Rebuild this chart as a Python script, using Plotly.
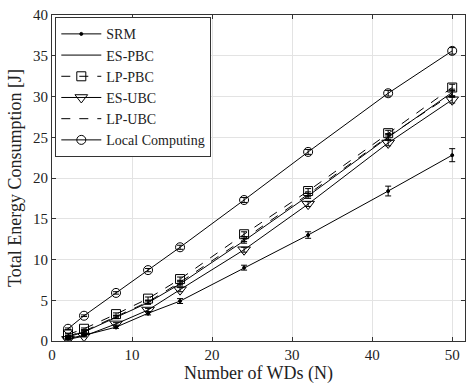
import plotly.graph_objects as go

N = [2, 4, 8, 12, 16, 24, 32, 42, 50]
srm = [0.3, 0.7, 1.7, 3.4, 4.9, 9.0, 13.0, 18.4, 22.8]
srm_err = [0.1, 0.1, 0.15, 0.2, 0.3, 0.3, 0.4, 0.6, 0.8]
es_pbc = [0.5, 1.1, 2.9, 4.7, 7.0, 12.3, 17.8, 25.0, 30.5]
lp_pbc = [0.8, 1.5, 3.3, 5.2, 7.6, 13.1, 18.4, 25.5, 31.1]
es_ubc = [0.2, 0.6, 2.1, 3.8, 6.3, 11.2, 16.8, 24.3, 29.6]
lp_ubc = [0.6, 1.2, 3.0, 4.8, 7.2, 12.5, 18.0, 25.1, 30.3]
local = [1.5, 3.1, 5.9, 8.7, 11.5, 17.3, 23.2, 30.4, 35.6]
gen_err = [0.1, 0.1, 0.15, 0.2, 0.25, 0.3, 0.3, 0.35, 0.4]

series = [
    ("SRM", srm, srm_err, "solid", "circle", 3),
    ("ES-PBC", es_pbc, gen_err, "solid", None, 0),
    ("LP-PBC", lp_pbc, gen_err, "dash", "square-open", 9),
    ("ES-UBC", es_ubc, gen_err, "solid", "triangle-down-open", 11),
    ("LP-UBC", lp_ubc, gen_err, "dash", None, 0),
    ("Local Computing", local, gen_err, "solid", "circle-open", 9),
]

fig = go.Figure()
for name, y, err, dash, sym, size in series:
    mode = "lines+markers" if sym else "lines"
    kw = {}
    if sym:
        kw["marker"] = dict(symbol=sym, size=size, color="black",
                            line=dict(color="black", width=1))
    fig.add_trace(go.Scatter(
        x=N, y=y, name=name, mode=mode,
        line=dict(color="black", width=1, dash=dash),
        error_y=dict(type="data", array=err, visible=True, color="black",
                     thickness=1, width=3),
        **kw))

font = dict(family="Liberation Serif, Times New Roman, serif", size=15, color="#222")
fig.update_layout(
    width=467, height=388,
    margin=dict(l=52, r=2, t=15, b=47),
    paper_bgcolor="white", plot_bgcolor="white",
    font=font,
    showlegend=True,
    legend=dict(x=0.008, y=0.993, xanchor="left", yanchor="top",
                bordercolor="#333", borderwidth=1, bgcolor="white",
                font=dict(size=14), tracegroupgap=0, itemwidth=40),
)
fig.update_xaxes(range=[0, 51.6], tickvals=[0, 10, 20, 30, 40, 50],
                 title=dict(text="Number of WDs (N)", standoff=2),
                 automargin=False,
                 showgrid=True, gridcolor="#e3e3e3", zeroline=False,
                 showline=True, linecolor="#333", mirror="ticks",
                 ticks="inside", ticklen=4, tickcolor="#333")
fig.update_yaxes(range=[0, 40], tickvals=[0, 5, 10, 15, 20, 25, 30, 35, 40],
                 title=dict(text="Total Energy Consumption [J]", standoff=6),
                 automargin=False,
                 showgrid=True, gridcolor="#e3e3e3", zeroline=False,
                 showline=True, linecolor="#333", mirror="ticks",
                 ticks="inside", ticklen=4, tickcolor="#333")
fig.write_html("out.html", config={"displayModeBar": False},
               post_script="document.body.style.margin='0';document.body.style.overflow='hidden';")
